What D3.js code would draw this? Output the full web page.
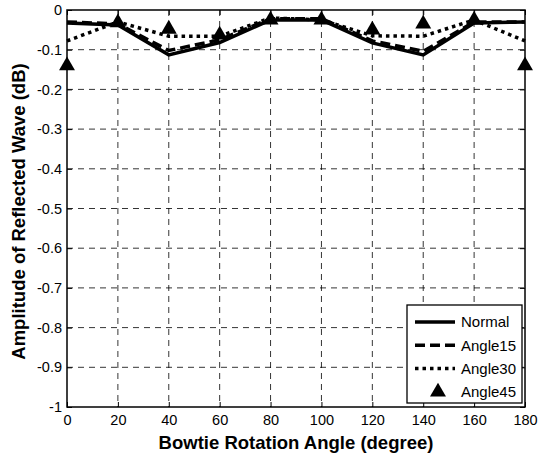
<!DOCTYPE html>
<html>
<head>
<meta charset="utf-8">
<script src="https://cdn.jsdelivr.net/npm/d3@7"></script>
<style>
  body { margin: 0; background: #fff; }
  text { font-family: "Liberation Sans", Arial, sans-serif; fill: #000; }
</style>
</head>
<body>
<svg id="chart" width="538" height="459"></svg>
<script>
// --- Data ---
const angles = [0, 20, 40, 60, 80, 100, 120, 140, 160, 180];
const normal  = [-0.033, -0.038, -0.113, -0.082, -0.025, -0.025, -0.083, -0.113, -0.033, -0.030];
const angle15 = [-0.030, -0.035, -0.102, -0.075, -0.022, -0.022, -0.078, -0.104, -0.030, -0.030];
const angle30 = [-0.078, -0.030, -0.066, -0.066, -0.020, -0.025, -0.065, -0.066, -0.025, -0.078];
const angle45 = [-0.140, -0.032, -0.048, -0.063, -0.025, -0.025, -0.050, -0.035, -0.025, -0.140];
const xTicks = [0, 20, 40, 60, 80, 100, 120, 140, 160, 180];
const yTicks = [0, -0.1, -0.2, -0.3, -0.4, -0.5, -0.6, -0.7, -0.8, -0.9, -1];
const yTickLabels = ["0", "-0.1", "-0.2", "-0.3", "-0.4", "-0.5", "-0.6", "-0.7", "-0.8", "-0.9", "-1"];

const box = { left: 67, right: 525, top: 10, bottom: 407 };

const svg = d3.select("#chart");
const x = d3.scaleLinear().domain([0, 180]).range([box.left, box.right]);
const y = d3.scaleLinear().domain([-1, 0]).range([box.bottom, box.top]);

// grid
const grid = svg.append("g").attr("stroke", "#000").attr("stroke-width", 0.8)
    .attr("stroke-dasharray", "6,5");
grid.selectAll(".gx").data(xTicks.slice(1, -1)).enter().append("line")
    .attr("x1", d => x(d)).attr("x2", d => x(d))
    .attr("y1", box.top).attr("y2", box.bottom);
grid.selectAll(".gy").data(yTicks.slice(1, -1)).enter().append("line")
    .attr("y1", d => y(d)).attr("y2", d => y(d))
    .attr("x1", box.left).attr("x2", box.right);

// axes (ticks pointing inward)
svg.append("g").attr("transform", `translate(0,${box.bottom})`)
    .call(d3.axisBottom(x).tickValues(xTicks).tickSize(-5).tickPadding(8).tickFormat(d3.format("d")))
    .call(g => g.select(".domain").remove())
    .call(g => g.selectAll("text").style("font-size", "14.5px"));
svg.append("g").attr("transform", `translate(${box.left},0)`)
    .call(d3.axisLeft(y).tickValues(yTicks).tickSize(-5).tickPadding(5)
        .tickFormat((d, i) => yTickLabels[i]))
    .call(g => g.select(".domain").remove())
    .call(g => g.selectAll("text").style("font-size", "14.5px"));
// top / right inner ticks
svg.append("g").attr("transform", `translate(0,${box.top})`)
    .call(d3.axisTop(x).tickValues(xTicks).tickSize(-5).tickFormat(""))
    .call(g => g.select(".domain").remove());
svg.append("g").attr("transform", `translate(${box.right},0)`)
    .call(d3.axisRight(y).tickValues(yTicks).tickSize(-5).tickFormat(""))
    .call(g => g.select(".domain").remove());

const line = d3.line().x((d, i) => x(angles[i])).y(d => y(d));
const plot = svg.append("g");
plot.append("path").datum(angle30).attr("d", line).attr("fill", "none")
    .attr("stroke", "#000").attr("stroke-width", 3.5).attr("stroke-dasharray", "3.5,4");
plot.append("path").datum(angle15).attr("d", line).attr("fill", "none")
    .attr("stroke", "#000").attr("stroke-width", 3.5).attr("stroke-dasharray", "10,5");
plot.append("path").datum(normal).attr("d", line).attr("fill", "none")
    .attr("stroke", "#000").attr("stroke-width", 3.5);

const tri = d3.symbol().type(d3.symbolTriangle).size(110);
plot.selectAll(".tri").data(angle45).enter().append("path")
    .attr("d", tri).attr("fill", "#000")
    .attr("transform", (d, i) => `translate(${x(angles[i])},${y(d)})`);

// frame
svg.append("rect").attr("x", box.left).attr("y", box.top)
    .attr("width", box.right - box.left).attr("height", box.bottom - box.top)
    .attr("fill", "none").attr("stroke", "#000").attr("stroke-width", 1.5);

// legend
const legendNames = ["Normal", "Angle15", "Angle30", "Angle45"];
const lg = svg.append("g").attr("transform", "translate(407,305)");
lg.append("rect").attr("width", 115).attr("height", 98)
    .attr("fill", "#fff").attr("stroke", "#000").attr("stroke-width", 1.3);
const items = lg.selectAll(".item").data(legendNames).enter().append("g")
    .attr("transform", (d, i) => `translate(0,${17 + i * 23.3})`);
items.filter((d, i) => i < 3).append("line")
    .attr("x1", 8).attr("x2", 48).attr("y1", 0).attr("y2", 0)
    .attr("stroke", "#000").attr("stroke-width", 3.5)
    .attr("stroke-dasharray", (d, i) => i === 0 ? null : i === 1 ? "10,5" : "3.5,4");
items.filter((d, i) => i === 3).append("path")
    .attr("d", tri).attr("fill", "#000").attr("transform", "translate(31,0)");
items.append("text").attr("x", 54).attr("dy", "0.35em")
    .style("font-size", "15px").text(d => d);

// titles
svg.append("text").attr("x", (box.left + box.right) / 2).attr("y", 449)
    .attr("text-anchor", "middle").style("font-size", "18.5px").style("font-weight", "bold")
    .text("Bowtie Rotation Angle (degree)");
svg.append("text").attr("transform", `translate(25,${(box.top + box.bottom) / 2 + 3}) rotate(-90)`)
    .attr("text-anchor", "middle").style("font-size", "18.5px").style("font-weight", "bold")
    .text("Amplitude of Reflected Wave (dB)");
</script>
</body>
</html>
